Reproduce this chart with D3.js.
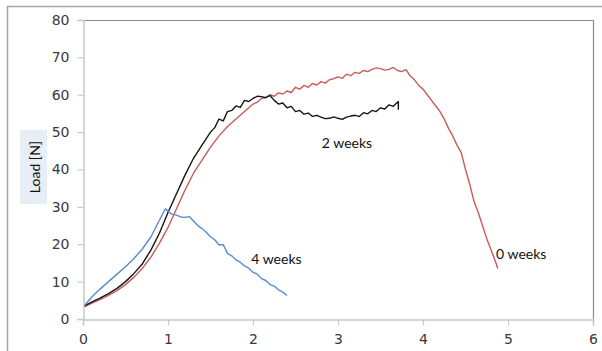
<!DOCTYPE html>
<html>
<head>
<meta charset="utf-8">
<script src="https://cdn.jsdelivr.net/npm/d3@7"></script>
<style>
  body { margin: 0; background: #fff; }
  svg { display: block; }
</style>
</head>
<body>
<div id="chart"></div>
<script>
// displacement (x) and load (y), one pair of arrays per curve
const weeks0X = [0.02, 0.1, 0.2, 0.3, 0.4, 0.5, 0.6, 0.7, 0.8, 0.9, 1.0, 1.1, 1.2, 1.3, 1.4, 1.5, 1.6, 1.7, 1.8, 1.9,
  2.0, 2.05, 2.1, 2.15, 2.2, 2.25, 2.3, 2.35, 2.4, 2.45, 2.5, 2.55, 2.6, 2.65, 2.7, 2.75, 2.8, 2.85, 2.9, 2.95,
  3.0, 3.05, 3.1, 3.15, 3.2, 3.25, 3.3, 3.35, 3.4, 3.45, 3.5, 3.55, 3.6, 3.65, 3.7, 3.75, 3.8, 3.85, 3.9, 3.95,
  4.0, 4.05, 4.1, 4.15, 4.2, 4.25, 4.3, 4.35, 4.4, 4.45, 4.5, 4.55, 4.6, 4.65, 4.7, 4.75, 4.8, 4.85, 4.88];
const weeks0Y = [3.3, 4.2, 5.2, 6.3, 7.6, 9.2, 11.2, 13.6, 16.6, 20.3, 24.5, 29.5, 34.5, 39, 42.5, 46, 49, 51.5, 53.5, 55.5,
  57.5, 58, 59, 59.3, 60, 59.6, 60.5, 60.2, 61, 60.6, 62, 61.5, 62.5, 62, 63, 62.6, 63.5, 63.1, 64, 64.3,
  64.8, 64.4, 65.5, 65.1, 66, 65.7, 66.5, 66.2, 66.8, 67.2, 67, 66.6, 66.8, 67.3, 66.5, 66.2, 66.7, 65, 64, 62.5,
  61.5, 60, 58.5, 57, 55.5, 53.5, 51, 49, 46.5, 44.5, 40, 36, 31.5, 28.5, 25, 21.5, 18.5, 15.5, 13.5];

const weeks2X = [0.02, 0.1, 0.2, 0.3, 0.4, 0.5, 0.6, 0.7, 0.8, 0.9, 1.0, 1.1, 1.2, 1.3, 1.4, 1.5, 1.55, 1.6, 1.65, 1.7,
  1.75, 1.8, 1.85, 1.9, 1.95, 2.0, 2.05, 2.1, 2.15, 2.2, 2.25, 2.3, 2.35, 2.4, 2.45, 2.5, 2.55, 2.6, 2.65, 2.7,
  2.75, 2.8, 2.85, 2.9, 2.95, 3.0, 3.05, 3.1, 3.15, 3.2, 3.25, 3.3, 3.35, 3.4, 3.45, 3.5, 3.55, 3.6, 3.65, 3.7, 3.71, 3.71];
const weeks2Y = [3.5, 4.5, 5.6, 6.8, 8.2, 10, 12.2, 14.8, 18.5, 23, 28.5, 33.5, 38.5, 43, 46.5, 50, 51.2, 53.5, 53, 55.5,
  55.8, 57, 56.6, 58.5, 58.2, 59, 59.6, 59.5, 59.2, 59.8, 58.5, 57.5, 57.8, 56.5, 56.9, 55.5, 55.8, 54.8, 55.1, 54.2,
  54.5, 54, 53.6, 53.7, 54.1, 53.7, 53.4, 54, 54.3, 54.5, 54.2, 55.2, 54.9, 55.8, 55.5, 56.5, 56.2, 57.3, 56.9, 58, 58.2, 56];

const weeks4X = [0.02, 0.1, 0.2, 0.3, 0.4, 0.5, 0.6, 0.7, 0.8, 0.9, 0.97, 1.0, 1.05, 1.1, 1.15, 1.2, 1.25, 1.3, 1.35, 1.4,
  1.45, 1.5, 1.55, 1.6, 1.65, 1.7, 1.75, 1.8, 1.85, 1.9, 1.95, 2.0, 2.05, 2.1, 2.15, 2.2, 2.25, 2.3, 2.35, 2.4];
const weeks4Y = [3.7, 5.8, 8, 10, 12, 14, 16.2, 18.8, 22, 26.5, 29.5, 28.8, 28, 27.8, 27.3, 27.2, 27.4, 26.2, 25, 24.2,
  23.2, 22, 21.2, 19.8, 19.9, 17.5, 16.9, 15.8, 15.2, 14.2, 13.6, 12.5, 12, 10.8, 10.3, 9.2, 8.8, 7.8, 7.2, 6.3];

const xTicks = [0, 1, 2, 3, 4, 5, 6];
const yTicks = [0, 10, 20, 30, 40, 50, 60, 70, 80];

const series = [
  { name: "0 weeks", xs: weeks0X, ys: weeks0Y, color: "#cc5a57" },
  { name: "2 weeks", xs: weeks2X, ys: weeks2Y, color: "#151515" },
  { name: "4 weeks", xs: weeks4X, ys: weeks4Y, color: "#5b8bcf" }
];

const labels = [
  { text: "2 weeks", x: 2.81, y: 47.3 },
  { text: "4 weeks", x: 1.98, y: 16.3 },
  { text: "0 weeks", x: 4.86, y: 17.5 }
];

const width = 602, height = 351;
const margin = { top: 20, right: 9, bottom: 32, left: 83 };

const svg = d3.select("#chart").append("svg")
  .attr("width", width)
  .attr("height", height);

// outer chart frame (clipped at right/bottom like the source)
svg.append("path")
  .attr("d", `M7.5,${height}V6.5H${width}`)
  .attr("fill", "none")
  .attr("stroke", "#a6a6a6")
  .attr("stroke-width", 1.5);

const x = d3.scaleLinear().domain([0, 6]).range([margin.left, width - margin.right]);
const y = d3.scaleLinear().domain([0, 80]).range([height - margin.bottom, margin.top]);

// plot area border on top and right
svg.append("path")
  .attr("d", `M${x(0)},${y(80) + 0.5}H${x(6) + 0.5}V${y(0)}`)
  .attr("fill", "none")
  .attr("stroke", "#8c8c8c")
  .attr("stroke-width", 1.2);

const yAxis = svg.append("g")
  .attr("transform", `translate(${x(0) + 0.5},0)`)
  .call(d3.axisLeft(y).tickValues(yTicks).tickSize(6).tickPadding(8).tickFormat(d3.format("d")));

const xAxis = svg.append("g")
  .attr("transform", `translate(0,${y(0) + 0.5})`)
  .call(d3.axisBottom(x).tickValues(xTicks).tickSize(6).tickPadding(9).tickFormat(d3.format("d")));

[xAxis, yAxis].forEach(g => {
  g.select(".domain").attr("stroke", "#c8c8c8").attr("stroke-width", 1.5);
  g.selectAll(".tick line").attr("stroke", "#c8c8c8").attr("stroke-width", 1.2);
  g.selectAll(".tick text")
    .attr("fill", "#3a3a3a")
    .style("font-family", "DejaVu Sans, Verdana, sans-serif")
    .style("font-size", "14px");
});

const line = d3.line()
  .x(d => x(d[0]))
  .y(d => y(d[1]));

series.forEach(s => {
  const pts = s.xs.map((v, i) => [v, s.ys[i]]);
  svg.append("path")
    .datum(pts)
    .attr("fill", "none")
    .attr("stroke", s.color)
    .attr("stroke-width", 1.4)
    .attr("stroke-linejoin", "round")
    .attr("d", line);
});

svg.selectAll("text.lbl")
  .data(labels)
  .join("text")
  .attr("class", "lbl")
  .attr("x", d => x(d.x))
  .attr("y", d => y(d.y))
  .attr("dominant-baseline", "central")
  .style("font-family", "Lato, sans-serif")
  .style("font-size", "14px")
  .attr("fill", "#111")
  .text(d => d.text);

// y-axis title with its pale box
const titleG = svg.append("g").attr("transform", "translate(34,167)");
titleG.append("rect")
  .attr("x", -14).attr("y", -37).attr("width", 27).attr("height", 74)
  .attr("fill", "#e8eef6");
titleG.append("text")
  .attr("transform", "rotate(-90)")
  .attr("text-anchor", "middle")
  .attr("dominant-baseline", "central")
  .style("font-family", "Lato, sans-serif")
  .style("font-size", "14px")
  .attr("fill", "#111")
  .text("Load [N]");
</script>
</body>
</html>
